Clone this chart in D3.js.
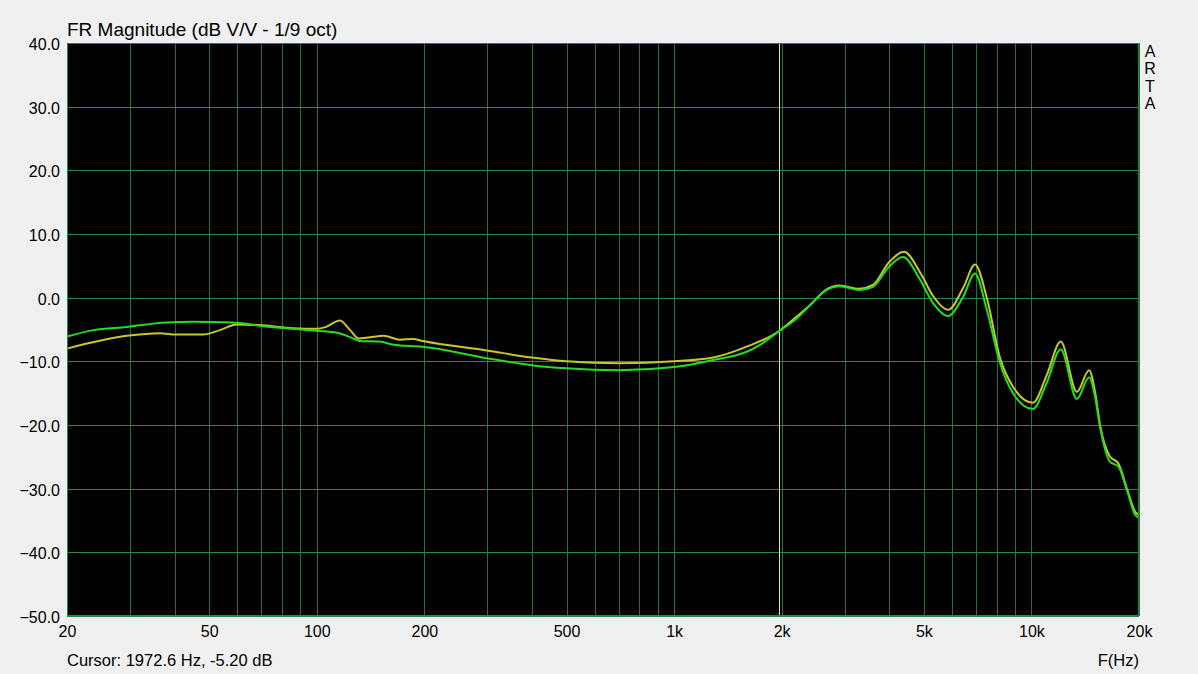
<!DOCTYPE html>
<html><head><meta charset="utf-8">
<script src="https://cdn.jsdelivr.net/npm/d3@7"></script>
<style>
html,body{margin:0;padding:0;background:#f0f0f0;}
svg{display:block;}
text{font-family:"Liberation Sans",Arial,sans-serif;fill:#000;}
</style></head>
<body>
<svg id="c" width="1198" height="674"></svg>
<script>
const title = "FR Magnitude (dB V/V - 1/9 oct)";
const cursorText = "Cursor: 1972.6 Hz, -5.20 dB";
const cursorFreq = 1972.6;
const xTickValues = [20, 50, 100, 200, 500, 1000, 2000, 5000, 10000, 20000];
const xTickLabels = ["20", "50", "100", "200", "500", "1k", "2k", "5k", "10k", "20k"];
const yTickValues = [40, 30, 20, 10, 0, -10, -20, -30, -40, -50];
const gridFreqs = [20,30,40,50,60,70,80,90,100,200,300,400,500,600,700,800,900,1000,2000,3000,4000,5000,6000,7000,8000,9000,10000,20000];

const greenFreq = [20,23.7,29.4,38,45,58,69,86,100,114,124,132,150,164,198,299,399,500,700,1000,1288,1596,1740,1973,2200,2400,2670,2900,3300,3600,4000,4370,4880,5310,5840,6450,6950,7500,8170,8880,10100,11030,12080,13400,14500,15070,15560,16600,17500,18500,19500,20000];
const greenDb = [-6.1,-5.1,-4.6,-3.9,-3.8,-3.9,-4.4,-4.9,-5.2,-5.5,-6.2,-6.8,-6.9,-7.4,-7.7,-9.5,-10.6,-11.1,-11.4,-10.9,-9.8,-8.5,-7.4,-5.2,-3.3,-1.2,1.2,1.8,1.2,1.7,4.9,6.4,2.8,-0.9,-2.9,0.2,3.8,-1.9,-10.3,-15.0,-17.5,-13.4,-8.1,-15.9,-12.5,-15.6,-20.3,-25.8,-26.5,-30.2,-34.1,-34.6];

const yellowFreq = [20,29.4,36.4,40.5,48,53.6,59.7,69,86,100,106,116,124,131,141,154,171,186,198,299,400,500,700,1000,1288,1596,1973,2200,2400,2670,2900,3300,3600,4000,4400,4900,5300,5850,6450,6950,7500,8170,8880,10100,11030,12080,13400,14500,15070,15560,16600,17500,18500,19500,20000];
const yellowDb = [-8.0,-6.0,-5.6,-5.8,-5.8,-5.1,-4.2,-4.3,-4.8,-4.9,-4.6,-3.6,-5.1,-6.4,-6.2,-6.0,-6.6,-6.5,-6.8,-8.3,-9.4,-10.0,-10.3,-10.0,-9.4,-7.7,-5.2,-3.0,-1.2,1.3,1.9,1.4,2.0,5.6,7.2,3.8,0.3,-1.9,1.6,5.2,0.0,-9.5,-14.0,-16.5,-12.2,-6.9,-14.8,-11.4,-14.8,-20.0,-25.0,-26.0,-30.0,-33.6,-34.2];

const svg = d3.select("#c");
const L = 67, R = 1139, T = 43, B = 616;
const x = d3.scaleLog().domain([20, 20000]).range([L, R]);
const y = d3.scaleLinear().domain([-50, 40]).range([B, T]);

svg.append("rect").attr("x", L).attr("y", T).attr("width", R - L).attr("height", B - T).attr("fill", "#000");

// grid
svg.append("g").selectAll("line").data(gridFreqs).join("line")
  .attr("x1", d => Math.round(x(d)) + 0.5).attr("x2", d => Math.round(x(d)) + 0.5)
  .attr("y1", T).attr("y2", B)
  .attr("stroke", "#1f7436").attr("stroke-width", 1);
svg.append("g").selectAll("line").data(yTickValues).join("line")
  .attr("x1", L).attr("x2", R)
  .attr("y1", d => Math.round(y(d)) + 0.5).attr("y2", d => Math.round(y(d)) + 0.5)
  .attr("stroke", "#2a8a42").attr("stroke-width", 1);

// cursor
svg.append("line").attr("x1", Math.round(x(cursorFreq)) - 0.5).attr("x2", Math.round(x(cursorFreq)) - 0.5)
  .attr("y1", T).attr("y2", B).attr("stroke", "#dfe4a8").attr("stroke-width", 1);

// curves
const line = d3.line().x(d => x(d[0])).y(d => y(d[1])).curve(d3.curveMonotoneX);
const yellow = yellowFreq.map((f, i) => [f, yellowDb[i]]);
const green = greenFreq.map((f, i) => [f, greenDb[i]]);
svg.append("path").datum(yellow).attr("d", line).attr("fill", "none").attr("stroke", "#c8c828").attr("stroke-width", 2);
svg.append("path").datum(green).attr("d", line).attr("fill", "none").attr("stroke", "#22dd22").attr("stroke-width", 2);

// border
svg.append("rect").attr("x", L + 0.5).attr("y", T + 0.5).attr("width", R - L - 1).attr("height", B - T - 1)
  .attr("fill", "none").attr("stroke", "#2a8a42").attr("stroke-width", 1);

// axes (labels only, ARTA style)
const xAxis = d3.axisBottom(x).tickValues(xTickValues).tickFormat((d, i) => xTickLabels[i]).tickSize(0).tickPadding(10);
const gx = svg.append("g").attr("transform", `translate(0,${B})`).call(xAxis);
gx.select(".domain").remove();
gx.selectAll("text").attr("font-size", 16).attr("font-family", "Liberation Sans, Arial, sans-serif").attr("fill", "#000");

const yAxis = d3.axisLeft(y).tickValues(yTickValues).tickFormat(d3.format(".1f")).tickSize(0).tickPadding(7);
const gy = svg.append("g").attr("transform", `translate(${L},0)`).call(yAxis);
gy.select(".domain").remove();
gy.selectAll("text").attr("font-size", 16).attr("font-family", "Liberation Sans, Arial, sans-serif").attr("fill", "#000").attr("dy", "0.4em");

svg.append("text").attr("x", L).attr("y", 36).attr("font-size", 19).text(title);
svg.append("text").attr("x", L).attr("y", 666).attr("font-size", 16.5).text(cursorText);
svg.append("text").attr("x", R).attr("y", 666).attr("text-anchor", "end").attr("font-size", 16.5).text("F(Hz)");
["A","R","T","A"].forEach((ch, i) => {
  svg.append("text").attr("x", 1150).attr("y", 57 + i * 17.3).attr("text-anchor", "middle").attr("font-size", 16).text(ch);
});
</script>
</body></html>
